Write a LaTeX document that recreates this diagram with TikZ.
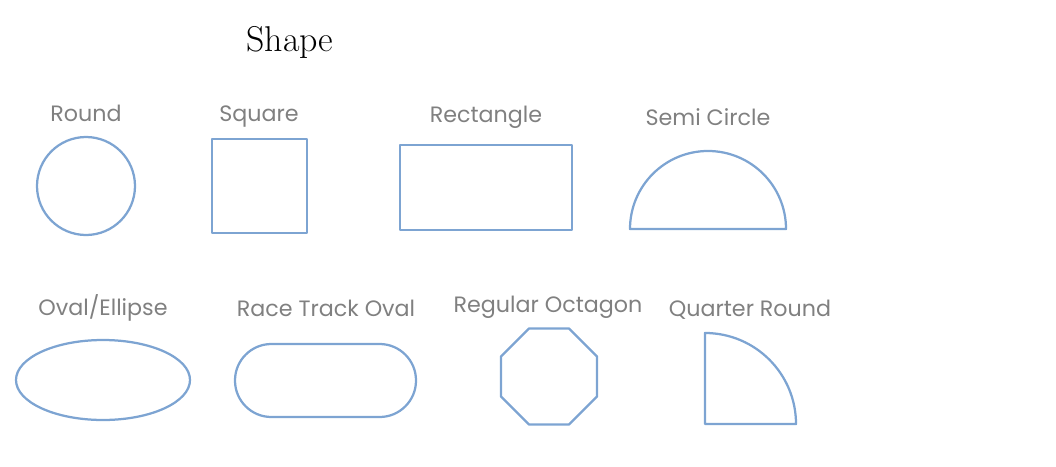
\documentclass[tikz,border=0pt]{standalone}
\usepackage{fontspec}
\newfontfamily\labelfont{Poppins}
\definecolor{shapeblue}{RGB}{125, 164, 210}
\definecolor{labelgray}{RGB}{128, 128, 128}
\usetikzlibrary{positioning}

\tikzset{
  shapeline/.style={draw=shapeblue, line width=1.6pt, line join=round},
  shapelabel/.style={text=labelgray, font=\labelfont\fontsize{15.8}{18}\selectfont, inner sep=0pt, anchor=base}
}

\begin{document}
\begin{tikzpicture}[x=0.025cm, y=-0.025cm]
  \useasboundingbox (0,0) rectangle (1056,466);

  % title
  \node[font=\fontsize{25.5}{30}\selectfont, inner sep=0pt, anchor=base] (title) at (290,52) {Shape};

  % top row
  \node[shapelabel] (round) at (86,121) {Round};
  \draw[shapeline] (86,186) circle[radius=49];

  \node[shapelabel] (square) at (259,121) {Square};
  \draw[shapeline] (212,139) rectangle (307,233);

  \node[shapelabel] (rect) at (486,122) {Rectangle};
  \draw[shapeline] (400,145) rectangle (572,230);

  \node[shapelabel] (semi) at (708,125) {Semi Circle};
  \draw[shapeline] (630,229) arc[start angle=180, end angle=360, radius=78] -- cycle;

  % bottom row
  \node[shapelabel] (oval) at (103,315) {Oval/Ellipse};
  \draw[shapeline] (103,380) ellipse[x radius=87, y radius=40];

  \node[shapelabel] (track) at (326,316) {Race Track Oval};
  \draw[shapeline, rounded corners=0.91cm] (235,344) rectangle (416,417);

  \node[shapelabel] (octagon) at (548,312) {Regular Octagon};
  \begin{scope}[shift={(549,376.5)}]
    \draw[shapeline] (22.5:52) \foreach \a in {67.5,112.5,...,337.5} { -- (\a:52) } -- cycle;
  \end{scope}

  \node[shapelabel] (quarter) at (750,316) {Quarter Round};
  \draw[shapeline] (705,424) -- (705,333) arc[start angle=270, end angle=360, radius=91] -- cycle;
\end{tikzpicture}
\end{document}
